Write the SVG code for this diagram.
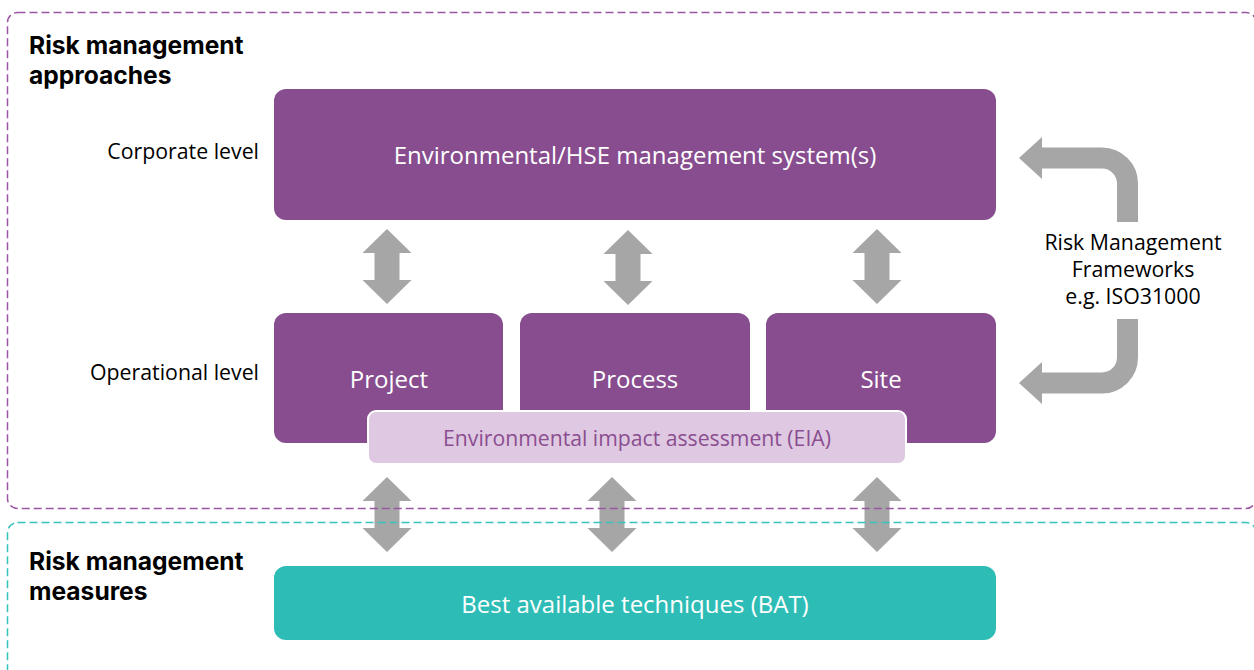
<svg xmlns="http://www.w3.org/2000/svg" width="1254" height="670" viewBox="0 0 1254 670">
  <style>
    .node { fill: #874D8E; }
    .txt { font-family: "Open Sans", "Noto Sans", "DejaVu Sans", sans-serif; }
    .wt { fill: #ffffff; font-size: 24px; text-anchor: middle; }
    .lbl { fill: #000000; font-size: 21.3px; }
    .head { fill: #000000; font-family: Inter, "Liberation Sans", sans-serif; font-size: 24.6px; font-weight: bold; }
    .arrow { fill: #A6A6A6; }
    .bend { fill: none; stroke: #A6A6A6; stroke-width: 21; }
  </style>
  <defs>
    <path id="dbl" d="M0,0 L24.5,24 L12.5,24 L12.5,51 L24.5,51 L0,75 L-24.5,51 L-12.5,51 L-12.5,24 L-24.5,24 Z"/>
  </defs>
  <rect width="1254" height="670" fill="#ffffff"/>

  <g id="connectors">
    <use href="#dbl" class="arrow" transform="translate(387,229)"/>
    <use href="#dbl" class="arrow" transform="translate(628,230)"/>
    <use href="#dbl" class="arrow" transform="translate(877,229)"/>
    <use href="#dbl" class="arrow" transform="translate(387,477)"/>
    <use href="#dbl" class="arrow" transform="translate(612,477)"/>
    <use href="#dbl" class="arrow" transform="translate(877,477)"/>
    <path class="bend" d="M1040,158 H1102 A25.5,25.5 0 0 1 1127.5,183.5 V222"/>
    <polygon class="arrow" points="1019,158 1042,137 1042,179"/>
    <path class="bend" d="M1127.5,319 V357.5 A25.5,25.5 0 0 1 1102,383 H1040"/>
    <polygon class="arrow" points="1019,383 1042,362 1042,404"/>
  </g>

  <g id="frames" fill="none" stroke-width="1.5" stroke-dasharray="8 4">
    <rect x="7.5" y="12.5" width="1248.5" height="496" rx="10" stroke="#9B55A2"/>
    <rect x="7.5" y="522.5" width="1248.5" height="200" rx="10" stroke="#35C4BD"/>
  </g>

  <g id="section-approaches">
    <text class="head" x="29" y="54">Risk management</text>
    <text class="head" x="29" y="84">approaches</text>
  </g>
  <g id="section-measures">
    <text class="head" x="29" y="570">Risk management</text>
    <text class="head" x="29" y="600">measures</text>
  </g>
  <g id="label-corporate" class="txt">
    <text class="lbl" x="259" y="159" text-anchor="end">Corporate level</text>
  </g>
  <g id="label-operational" class="txt">
    <text class="lbl" x="259" y="380" text-anchor="end">Operational level</text>
  </g>
  <g id="label-frameworks" class="txt">
    <text class="lbl" x="1133" y="250" text-anchor="middle">Risk Management</text>
    <text class="lbl" x="1133" y="277" text-anchor="middle">Frameworks</text>
    <text class="lbl" x="1133" y="304" text-anchor="middle">e.g. ISO31000</text>
  </g>

  <g id="node-ems">
    <rect class="node" x="274" y="89" width="722" height="131" rx="12"/>
    <text class="txt wt" x="635" y="164">Environmental/HSE management system(s)</text>
  </g>
  <g id="node-project">
    <rect class="node" x="274" y="313" width="229" height="130" rx="12"/>
    <text class="txt wt" x="389" y="388">Project</text>
  </g>
  <g id="node-process">
    <rect class="node" x="520" y="313" width="230" height="130" rx="12"/>
    <text class="txt wt" x="635" y="388">Process</text>
  </g>
  <g id="node-site">
    <rect class="node" x="766" y="313" width="230" height="130" rx="12"/>
    <text class="txt wt" x="881" y="388">Site</text>
  </g>
  <g id="node-eia">
    <rect x="368" y="411" width="538" height="53" rx="8" fill="#DFC8E1" stroke="#ffffff" stroke-width="2"/>
    <text class="txt" x="637" y="446" font-size="21.2" fill="#8A4E90" text-anchor="middle">Environmental impact assessment (EIA)</text>
  </g>
  <g id="node-bat">
    <rect x="274" y="566" width="722" height="74" rx="12" fill="#2EBDB6"/>
    <text class="txt wt" x="635" y="613">Best available techniques (BAT)</text>
  </g>
</svg>
